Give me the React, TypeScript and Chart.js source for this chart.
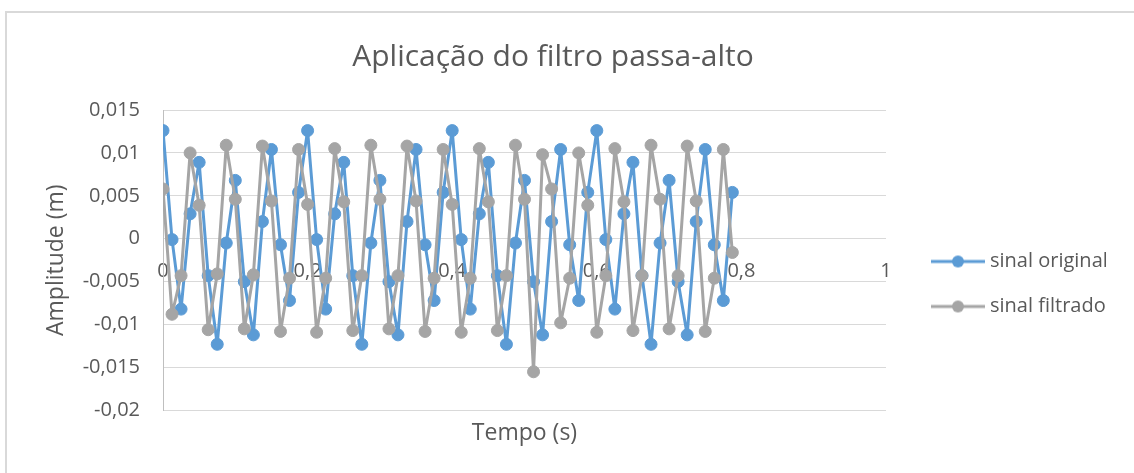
import React, { useEffect, useRef } from 'react';
import { Chart, registerables } from 'chart.js';

Chart.register(...registerables);

const chartTitle = 'Aplicação do filtro passa-alto';
const xAxisTitle = 'Tempo (s)';
const yAxisTitle = 'Amplitude (m)';
const seriesNames = ['sinal original', 'sinal filtrado'];
const seriesColors = ['#5B9BD5', '#A5A5A5'];

const timeValues = [
  0, 0.0125, 0.025, 0.0375, 0.05, 0.0625, 0.075, 0.0875, 0.1, 0.1125, 0.125, 0.1375, 0.15, 0.1625, 0.175, 0.1875,
  0.2, 0.2125, 0.225, 0.2375, 0.25, 0.2625, 0.275, 0.2875, 0.3, 0.3125, 0.325, 0.3375, 0.35, 0.3625, 0.375, 0.3875,
  0.4, 0.4125, 0.425, 0.4375, 0.45, 0.4625, 0.475, 0.4875, 0.5, 0.5125, 0.525, 0.5375, 0.55, 0.5625, 0.575, 0.5875,
  0.6, 0.6125, 0.625, 0.6375, 0.65, 0.6625, 0.675, 0.6875, 0.7, 0.7125, 0.725, 0.7375, 0.75, 0.7625, 0.775, 0.7875,
];

const originalSignal = [
  0.0126, -0.0001, -0.0082, 0.0029, 0.0089, -0.0043, -0.0123, -0.0005, 0.0068, -0.005, -0.0112, 0.002, 0.0104, -0.0007, -0.0072, 0.0054,
  0.0126, -0.0001, -0.0082, 0.0029, 0.0089, -0.0043, -0.0123, -0.0005, 0.0068, -0.005, -0.0112, 0.002, 0.0104, -0.0007, -0.0072, 0.0054,
  0.0126, -0.0001, -0.0082, 0.0029, 0.0089, -0.0043, -0.0123, -0.0005, 0.0068, -0.005, -0.0112, 0.002, 0.0104, -0.0007, -0.0072, 0.0054,
  0.0126, -0.0001, -0.0082, 0.0029, 0.0089, -0.0043, -0.0123, -0.0005, 0.0068, -0.005, -0.0112, 0.002, 0.0104, -0.0007, -0.0072, 0.0054,
];

const filteredSignal = [
  0.0058, -0.0088, -0.0043, 0.01, 0.0039, -0.0106, -0.0041, 0.0109, 0.0046, -0.0105, -0.0042, 0.0108, 0.0044, -0.0108, -0.0046, 0.0104,
  0.004, -0.0109, -0.0046, 0.0105, 0.0043, -0.0107, -0.0043, 0.0109, 0.0046, -0.0105, -0.0043, 0.0108, 0.0044, -0.0108, -0.0046, 0.0104,
  0.004, -0.0109, -0.0046, 0.0105, 0.0043, -0.0107, -0.0043, 0.0109, 0.0046, -0.0155, 0.0098, 0.0058, -0.0098, -0.0046, 0.01, 0.0039,
  -0.0109, -0.0043, 0.0105, 0.0043, -0.0107, -0.0043, 0.0109, 0.0046, -0.0105, -0.0043, 0.0108, 0.0044, -0.0108, -0.0046, 0.0104, -0.0016,
];

const xTickLabels = ['0', '0,2', '0,4', '0,6', '0,8', '1'];
const yTickLabels = ['-0,02', '-0,015', '-0,01', '-0,005', '0', '0,005', '0,01', '0,015'];

const FONT = "'Open Sans', sans-serif";
const TEXT = '#595959';
const X_MIN = 0;
const X_MAX = 1;
const X_STEP = 0.2;
const Y_MIN = -0.02;
const Y_MAX = 0.015;
const Y_STEP = 0.005;

function makeSymbol(color: string) {
  const c = document.createElement('canvas');
  c.width = 54;
  c.height = 14;
  const ctx = c.getContext('2d')!;
  ctx.strokeStyle = color;
  ctx.lineWidth = 3;
  ctx.beginPath();
  ctx.moveTo(0, 7);
  ctx.lineTo(54, 7);
  ctx.stroke();
  ctx.fillStyle = color;
  ctx.beginPath();
  ctx.arc(27, 7, 6, 0, Math.PI * 2);
  ctx.fill();
  return c;
}

export default function App() {
  const ref = useRef<HTMLCanvasElement>(null);

  useEffect(() => {
    if (!ref.current) return;
    const symbols = seriesColors.map(makeSymbol);
    const series = [originalSignal, filteredSignal];
    const chart = new Chart(ref.current, {
      type: 'line',
      data: {
        datasets: series.map((vals, k) => ({
          label: seriesNames[k],
          data: timeValues.map((t, i) => ({ x: t, y: vals[i] })),
          borderColor: seriesColors[k],
          backgroundColor: seriesColors[k],
          borderWidth: 3,
          borderJoinStyle: 'round',
          borderCapStyle: 'round',
          pointRadius: 6,
          pointBorderWidth: 1,
          pointBorderColor: seriesColors[k],
          pointBackgroundColor: seriesColors[k],
          tension: 0,
          order: k === 0 ? 2 : 1,
        })),
      },
      options: {
        animation: false,
        responsive: false,
        devicePixelRatio: 1,
        layout: { padding: { left: 0, right: 28, top: 0, bottom: 26 } },
        plugins: {
          title: {
            display: true,
            text: chartTitle,
            color: TEXT,
            font: { family: FONT, size: 30, weight: 'normal' },
            padding: { top: 39, bottom: 35 },
          },
          legend: {
            position: 'right',
            align: 'center',
            maxWidth: 195,
            title: { display: true, text: ' ', font: { size: 2 }, padding: { top: 0, bottom: 118.6 } },
            labels: {
              usePointStyle: true,
              pointStyleWidth: 44,
              padding: 25,
              color: TEXT,
              font: { family: FONT, size: 20 },
              sort: (a: any, b: any) => a.datasetIndex - b.datasetIndex,
              generateLabels: (ch: any) => {
                const items = Chart.defaults.plugins.legend.labels.generateLabels(ch);
                return items.map((it: any) => ({ ...it, pointStyle: symbols[it.datasetIndex] }));
              },
            },
          },
          tooltip: { enabled: false },
        },
        scales: {
          x: {
            type: 'linear',
            position: { y: 0 },
            min: X_MIN,
            max: X_MAX,
            grid: { display: false, drawTicks: false },
            border: { display: false },
            ticks: {
              stepSize: X_STEP,
              padding: 21,
              autoSkip: false,
              maxRotation: 0,
              color: TEXT,
              font: { family: FONT, size: 20 },
              callback: (v: any) => xTickLabels[Math.round((v - X_MIN) / X_STEP)],
            },
          },
          xTitle: {
            type: 'linear',
            axis: 'x',
            position: 'bottom',
            min: X_MIN,
            max: X_MAX,
            grid: { display: false, drawTicks: false },
            border: { display: false },
            ticks: { display: false },
            title: {
              display: true,
              text: xAxisTitle,
              color: TEXT,
              font: { family: FONT, size: 23 },
              padding: { top: 9, bottom: 0 },
            },
          },
          y: {
            type: 'linear',
            position: 'left',
            min: Y_MIN,
            max: Y_MAX,
            grid: { color: '#d9d9d9', lineWidth: 1, drawTicks: false },
            border: { display: true, color: '#bfbfbf', width: 1 },
            ticks: {
              stepSize: Y_STEP,
              padding: 23,
              color: TEXT,
              font: { family: FONT, size: 20 },
              callback: (v: any) => yTickLabels[Math.round((v - Y_MIN) / Y_STEP)],
            },
            title: {
              display: true,
              text: yAxisTitle,
              color: TEXT,
              font: { family: FONT, size: 23 },
              padding: { top: 43, bottom: 0 },
            },
            afterFit: (s: any) => {
              s.width = 163;
            },
          },
          yPad: {
            type: 'linear',
            axis: 'y',
            position: 'right',
            display: true,
            grid: { display: false, drawTicks: false },
            border: { display: false },
            ticks: { display: false },
            afterFit: (s: any) => {
              s.width = 25;
            },
          },
        },
      } as any,
    });
    return () => chart.destroy();
  }, []);

  return (
    <div style={{ position: 'fixed', left: 0, top: 0, width: 1134, height: 473, overflow: 'hidden', background: '#fff' }}>
      <div
        style={{
          position: 'absolute',
          left: 5,
          top: 11,
          width: 1300,
          height: 600,
          borderLeft: '2px solid #d9d9d9',
          borderTop: '2px solid #d9d9d9',
          boxSizing: 'border-box',
        }}
      />
      <canvas ref={ref} width={1134} height={473} style={{ position: 'absolute', left: 0, top: 0, width: 1134, height: 473 }} />
    </div>
  );
}
